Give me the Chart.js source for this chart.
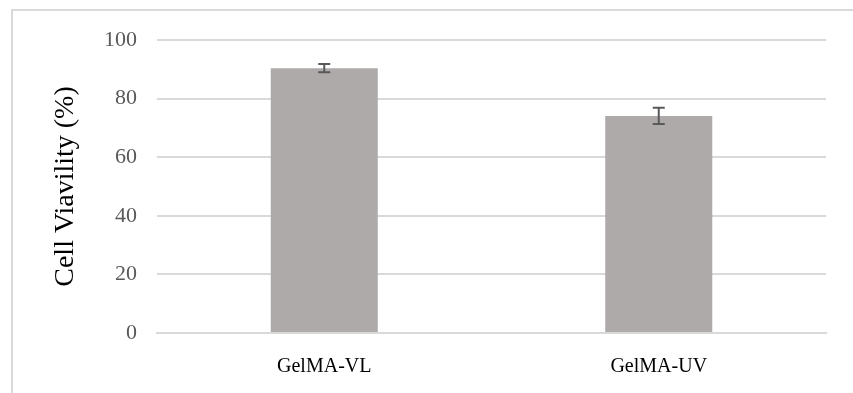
<!DOCTYPE html>
<html><head><meta charset="utf-8">
<script src="https://cdn.jsdelivr.net/npm/chart.js@4"></script>
<style>
html,body{margin:0;padding:0;background:#fff;overflow:hidden}
#wrap{position:relative;width:853px;height:393px}
#frame{position:absolute;left:11px;top:9px;width:900px;height:500px;border:2px solid #d9d9d9;box-sizing:border-box}
canvas{position:absolute;left:0;top:0}
</style></head><body>
<div id="wrap"><div id="frame"></div><canvas id="c" width="853" height="393"></canvas></div>
<script>
const categories = ["GelMA-VL", "GelMA-UV"];
const viability = [90.4, 74.1];
const errors = [1.4, 2.8];
const yTicks = [0, 20, 40, 60, 80, 100];

const errorBarPlugin = {
  id: 'errorBars',
  afterDatasetsDraw(chart) {
    const ctx = chart.ctx;
    const meta = chart.getDatasetMeta(0);
    const y = chart.scales.y;
    ctx.save();
    ctx.strokeStyle = '#595959';
    ctx.lineWidth = 2;
    meta.data.forEach((bar, i) => {
      const v = viability[i], e = errors[i];
      const yt = y.getPixelForValue(v + e), yb = y.getPixelForValue(v - e);
      const x = bar.x, cap = 6;
      ctx.beginPath();
      ctx.moveTo(x, yt); ctx.lineTo(x, yb);
      ctx.moveTo(x - cap, yt); ctx.lineTo(x + cap, yt);
      ctx.moveTo(x - cap, yb); ctx.lineTo(x + cap, yb);
      ctx.stroke();
    });
    ctx.restore();
  }
};

new Chart(document.getElementById('c'), {
  type: 'bar',
  data: {
    labels: categories,
    datasets: [{ data: viability, backgroundColor: '#aeaaaa', borderWidth: 0,
      categoryPercentage: 1.0, barPercentage: 0.32 }]
  },
  options: {
    responsive: false, animation: false,
    devicePixelRatio: 1,
    layout: { padding: { top: 40, right: 27, left: 0, bottom: 0 } },
    plugins: { legend: { display: false }, tooltip: { enabled: false } },
    scales: {
      x: {
        grid: { display: false, drawTicks: false },
        border: { color: '#d9d9d9', width: 2 },
        ticks: { color: '#000', font: { family: 'Liberation Serif', size: 20 }, padding: 22 },
        afterFit(s) { s.height = 60; }
      },
      y: {
        min: 0, max: 100,
        afterBuildTicks(s) { s.ticks = yTicks.map(v => ({ value: v })); },
        grid: { color: '#d9d9d9', lineWidth: 2, drawTicks: false },
        border: { display: false },
        ticks: { color: '#595959', font: { family: 'Liberation Serif', size: 22 }, padding: 20 },
        title: { display: true, text: 'Cell Viavility (%)', color: '#000',
          font: { family: 'Liberation Serif', size: 28 }, padding: { top: 49, bottom: 0 } },
        afterFit(s) { s.width = 157; }
      }
    }
  },
  plugins: [errorBarPlugin]
});
</script>
</body></html>
